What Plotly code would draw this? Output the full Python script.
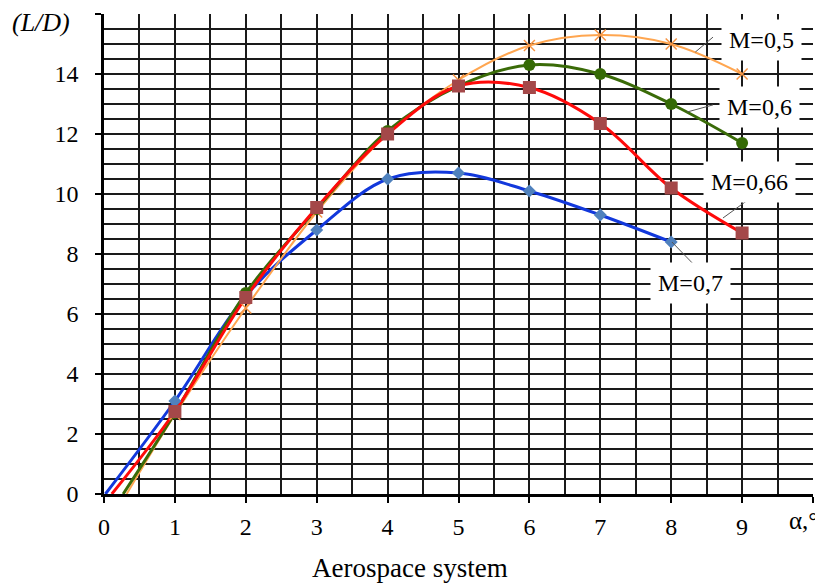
import plotly.graph_objects as go

# Data: angle of attack (deg) and lift-to-drag ratio for each Mach number
series_names = ["M=0,7", "M=0,5", "M=0,6", "M=0,66"]
alpha_m07 = [0.02, 1, 2, 3, 4, 5, 6, 7, 8]
ld_m07 = [0.0, 3.1, 6.6, 8.8, 10.5, 10.7, 10.1, 9.3, 8.4]
alpha_m05 = [0.32, 1, 2, 3, 4, 5, 6, 7, 8, 9]
ld_m05 = [0.0, 2.65, 6.2, 9.4, 12.0, 13.8, 14.95, 15.3, 15.0, 14.0]
alpha_m06 = [0.27, 1, 2, 3, 4, 5, 6, 7, 8, 9]
ld_m06 = [0.0, 2.7, 6.7, 9.5, 12.1, 13.6, 14.3, 14.0, 13.0, 11.7]
alpha_m066 = [0.11, 1, 2, 3, 4, 5, 6, 7, 8, 9]
ld_m066 = [0.0, 2.75, 6.55, 9.55, 12.0, 13.6, 13.55, 12.35, 10.2, 8.7]

x_ticks = [0, 1, 2, 3, 4, 5, 6, 7, 8, 9, 10]
x_ticktext = ["0", "1", "2", "3", "4", "5", "6", "7", "8", "9", ""]
y_ticks = [0, 2, 4, 6, 8, 10, 12, 14, 16]
y_ticktext = ["0", "2", "4", "6", "8", "10", "12", "14", ""]

styles = {
    "M=0,7": dict(line="#1238DC", lw=3, marker="diamond", mc="#4F81BD", ms=10, x=alpha_m07, y=ld_m07),
    "M=0,5": dict(line="#FFA650", lw=2, marker="x-thin", mc="#F79646", ms=11, x=alpha_m05, y=ld_m05),
    "M=0,6": dict(line="#3A6B08", lw=3, marker="circle", mc="#356A05", ms=12, x=alpha_m06, y=ld_m06),
    "M=0,66": dict(line="#FF0A0A", lw=3, marker="square", mc="#A44849", ms=13, x=alpha_m066, y=ld_m066),
}

fig = go.Figure()
for name in series_names:
    s = styles[name]
    fig.add_trace(go.Scatter(
        x=s["x"], y=s["y"], mode="lines", name=name,
        line=dict(color=s["line"], width=s["lw"], shape="spline", smoothing=1.0),
        showlegend=False, hoverinfo="skip"))
for name in series_names:
    s = styles[name]
    mk = dict(symbol=s["marker"], color=s["mc"], size=s["ms"])
    if s["marker"] == "x-thin":
        mk["line"] = dict(color=s["mc"], width=1.5)
    fig.add_trace(go.Scatter(
        x=s["x"][1:], y=s["y"][1:], mode="markers", name=name,
        marker=mk, showlegend=False))

font_family = "Liberation Serif"

# Leader lines and labels (positions in data coordinates)
labels = {
    "M=0,5": dict(lx=9.27, ly=15.13, l0=(8.34, 14.73), l1=(8.59, 15.23)),
    "M=0,6": dict(lx=9.25, ly=12.9, l0=(8.22, 12.73), l1=(8.59, 12.97)),
    "M=0,66": dict(lx=9.10, ly=10.4, l0=(8.73, 9.2), l1=(9.14, 9.9)),
    "M=0,7": dict(lx=8.27, ly=7.03, l0=(8.01, 8.4), l1=(8.31, 7.67)),
}
for name, p in labels.items():
    fig.add_shape(type="line", x0=p["l0"][0], y0=p["l0"][1], x1=p["l1"][0], y1=p["l1"][1],
                  line=dict(color="#555555", width=1), layer="above")
    fig.add_annotation(x=p["lx"], y=p["ly"], text=name, showarrow=False,
                       font=dict(family=font_family, size=24, color="black"),
                       bgcolor="white", borderpad=7)

fig.add_annotation(xref="paper", yref="paper", x=-0.1326, y=0.983, xanchor="left", yanchor="middle",
                   text="<i>(L/D)</i>", showarrow=False,
                   font=dict(family=font_family, size=26, color="black"))
fig.add_annotation(xref="paper", yref="paper", x=0.986, y=-0.056, xanchor="center", yanchor="middle",
                   text="α,°", showarrow=False,
                   font=dict(family=font_family, size=25, color="black"))
fig.add_annotation(xref="paper", yref="paper", x=0.4316, y=-0.154, xanchor="center", yanchor="middle",
                   text="Aerospace system", showarrow=False,
                   font=dict(family=font_family, size=27, color="black"))

grid_color = "#1a1a1a"
fig.update_xaxes(range=[0, 10], tickvals=x_ticks, ticktext=x_ticktext,
                 showgrid=True, gridcolor=grid_color, gridwidth=1.6,
                 minor=dict(dtick=0.5, showgrid=True, gridcolor=grid_color, gridwidth=1.6, tick0=0),
                 showline=True, linecolor="black", linewidth=2.5,
                 ticks="outside", ticklen=6, tickwidth=2, tickcolor="black",
                 ticklabelstandoff=3,
                 tickfont=dict(family=font_family, size=24, color="black"),
                 zeroline=False, fixedrange=True)
fig.update_yaxes(range=[0, 16], tickvals=y_ticks, ticktext=y_ticktext,
                 showgrid=True, gridcolor=grid_color, gridwidth=1.6,
                 minor=dict(dtick=0.5, showgrid=True, gridcolor=grid_color, gridwidth=1.6, tick0=0),
                 showline=True, linecolor="black", linewidth=2.5,
                 ticks="outside", ticklen=6, tickwidth=2, tickcolor="black",
                 ticklabelstandoff=12,
                 tickfont=dict(family=font_family, size=24, color="black"),
                 zeroline=False, fixedrange=True)

fig.update_layout(width=823, height=585,
                  margin=dict(l=96, r=18, t=6, b=99),
                  paper_bgcolor="white", plot_bgcolor="white",
                  showlegend=False)

fig.write_html("out.html")
